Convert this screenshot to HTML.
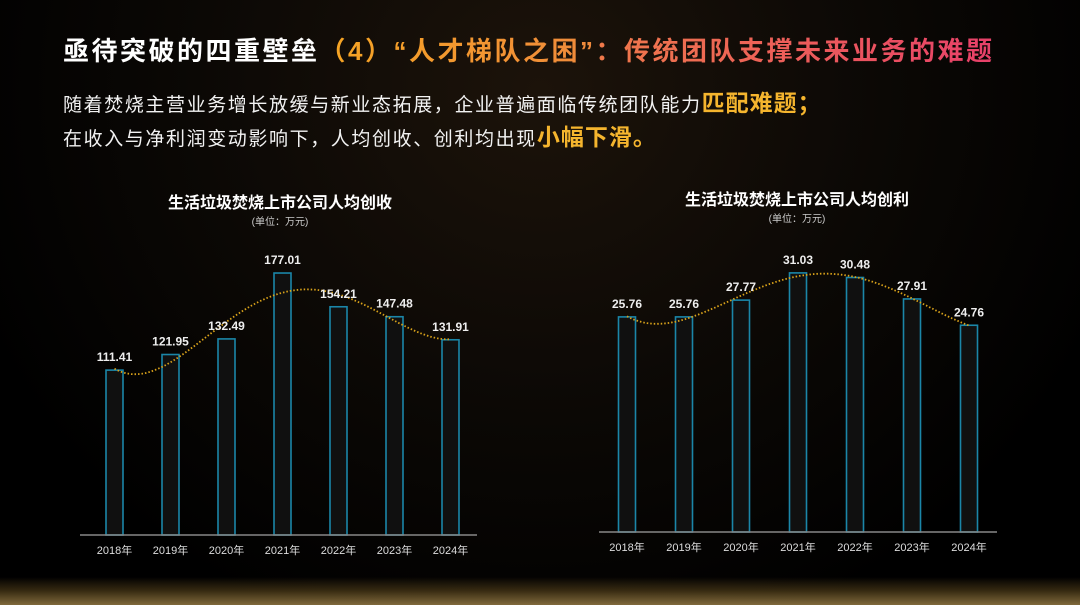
<!DOCTYPE html>
<html><head><meta charset="utf-8">
<style>
html,body{margin:0;padding:0;background:#000;}
#root{position:relative;width:1080px;height:605px;overflow:hidden;background:radial-gradient(ellipse at 50% 15%,#1c130a 0%,#0b0805 45%,#000 80%);font-family:"Liberation Sans","Noto Sans CJK SC",sans-serif;}
.t{position:absolute;white-space:nowrap;}
#title{left:63px;top:31px;font-size:26px;font-weight:bold;color:#fff;letter-spacing:2.5px;}
.g1{background:linear-gradient(90deg,#f6a623,#f08a3c);-webkit-background-clip:text;color:transparent;}
.g2{background:linear-gradient(90deg,#f07a4a,#e8406a);-webkit-background-clip:text;color:transparent;}
.sub{left:63px;font-size:19px;color:#f2f2f2;letter-spacing:1.6px;}
.hl{font-size:23px;font-weight:bold;color:#f5b52e;letter-spacing:1px;}
#strip{position:absolute;left:0;bottom:0;width:1080px;height:28px;background:linear-gradient(180deg,rgba(0,0,0,0) 0%,rgba(110,85,35,.5) 50%,rgba(170,140,80,.75) 100%);}
</style></head>
<body>
<div id="root">
<div class="t" id="title">亟待突破的四重壁垒<span class="g1">（4）“人才梯队之困”</span><span class="g2">：传统团队支撑未来业务的难题</span></div>
<div class="t sub" style="top:84px">随着焚烧主营业务增长放缓与新业态拓展，企业普遍面临传统团队能力<span class="hl">匹配难题；</span></div>
<div class="t sub" style="top:118px">在收入与净利润变动影响下，人均创收、创利均出现<span class="hl">小幅下滑。</span></div>
<div id="strip"></div>
<svg id="chart" width="1080" height="605" style="position:absolute;left:0;top:0"></svg>
</div>
<script>
const years=["2018年","2019年","2020年","2021年","2022年","2023年","2024年"];
const revenue=[111.41,121.95,132.49,177.01,154.21,147.48,131.91];
const profit=[25.76,25.76,27.77,31.03,30.48,27.91,24.76];
const revenueLabels=["111.41","121.95","132.49","177.01","154.21","147.48","131.91"];
const profitLabels=["25.76","25.76","27.77","31.03","30.48","27.91","24.76"];
const NS="http://www.w3.org/2000/svg";
const svg=document.getElementById('chart');
function mk(tag,attrs,parent){const e=document.createElementNS(NS,tag);for(const k in attrs)e.setAttribute(k,attrs[k]);(parent||svg).appendChild(e);return e;}
function polyFit(ys,deg){
  const n=ys.length,m=deg+1;const A=[];for(let i=0;i<m;i++){A.push(new Array(m+1).fill(0));}
  for(let k=0;k<n;k++){const x=k-(n-1)/2;for(let i=0;i<m;i++){for(let j=0;j<m;j++)A[i][j]+=Math.pow(x,i+j);A[i][m]+=ys[k]*Math.pow(x,i);}}
  for(let i=0;i<m;i++){let p=i;for(let r=i+1;r<m;r++)if(Math.abs(A[r][i])>Math.abs(A[p][i]))p=r;[A[i],A[p]]=[A[p],A[i]];
    for(let r=0;r<m;r++){if(r===i)continue;const f=A[r][i]/A[i][i];for(let c=i;c<=m;c++)A[r][c]-=f*A[i][c];}}
  const co=A.map((row,i)=>row[m]/row[i]);return x=>{const t=x-(n-1)/2;return co.reduce((s,c,i)=>s+c*Math.pow(t,i),0);};
}
function drawChart(cfg){
  const g=mk('g',{});
  
  
  const xS=i=>cfg.x0+i*cfg.step;const yS=v=>cfg.base-v*cfg.scale;
  const t=mk('text',{x:cfg.cx,y:cfg.titleY,'text-anchor':'middle',fill:'#fff','font-size':16,'font-weight':'bold'},g);t.textContent=cfg.title;
  
  
  const u=mk('text',{x:cfg.cx,y:cfg.titleY+17,'text-anchor':'middle',fill:'#ccc','font-size':10},g);u.textContent='(单位：万元)';
  
  
  const f=polyFit(cfg.data,4);
  cfg.data.forEach((v,i)=>{
    const r=mk('rect',{x:xS(i)-8.5,y:yS(v),width:17,height:v*cfg.scale,fill:'#101010',stroke:'#1b86a8','stroke-width':1.6},g);
    
    
    const xl=mk('text',{x:xS(i),y:cfg.base+19,'text-anchor':'middle',fill:'#ddd','font-size':11},g);xl.textContent=years[i];
    
    
  });
  const ax=mk('line',{x1:cfg.ax0,x2:cfg.ax1,y1:cfg.base,y2:cfg.base,stroke:'#888','stroke-width':1.5},g);
  
  
  let d='';
  for(let s=0;s<=120;s++){const x=s*(cfg.data.length-1)/120;d+=(s?'L':'M')+xS(x).toFixed(1)+','+yS(f(x)).toFixed(1);}
  const p=mk('path',{d:d,fill:'none',stroke:'#d9a21a','stroke-width':1.8,'stroke-dasharray':'1.5 2'},g);
  
  
  cfg.data.forEach((v,i)=>{
    const l=mk('text',{x:xS(i),y:yS(v)-9,'text-anchor':'middle',fill:'#eee','font-size':12,'font-weight':'bold'},g);l.textContent=cfg.labels[i];
    
    
  });
}
drawChart({name:'revenue-per-capita-chart',data:revenue,labels:revenueLabels,x0:114.5,step:56,base:535,scale:1.48,ax0:80,ax1:477,cx:280,titleY:208,title:'生活垃圾焚烧上市公司人均创收'});
drawChart({name:'profit-per-capita-chart',data:profit,labels:profitLabels,x0:627,step:57,base:532,scale:8.35,ax0:599,ax1:997,cx:797,titleY:205,title:'生活垃圾焚烧上市公司人均创利'});
</script>
</body></html>
